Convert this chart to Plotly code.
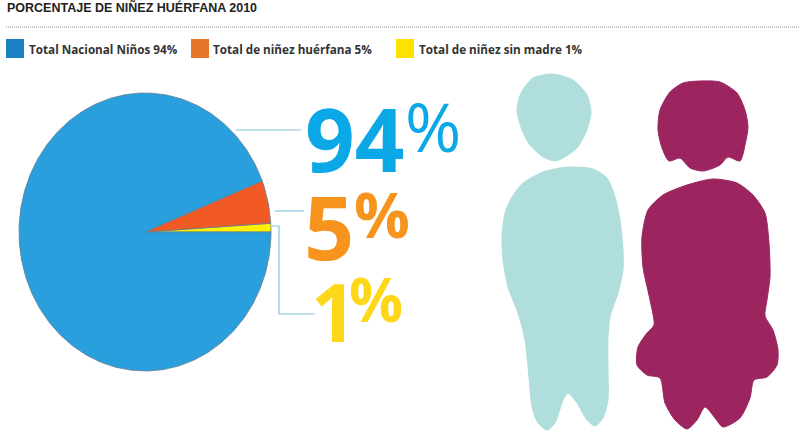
import numpy as np
import plotly.graph_objects as go

title = "PORCENTAJE DE NIÑEZ HUÉRFANA 2010"
categories = ["Total Nacional Niños 94%", "Total de niñez huérfana 5%", "Total de niñez sin madre 1%"]
shares = [94, 5, 1]
big_labels = ["94", "5", "1"]

legend_colors = ["#1b7fc4", "#e5752a", "#ffe100"]
slice_colors = ["#2a9fdd", "#f15a25", "#fff200"]
label_colors = ["#0aa8e6", "#f7941d", "#ffd71a"]

# silhouettes in pixels
boy_head = [(553, 74), (573, 80), (587, 95), (591, 113), (586, 132), (577, 148), (563, 158), (555, 161),
            (543, 157), (530, 145), (522, 130), (517, 110), (521, 93), (533, 78)]
boy_body = [(573, 167), (593, 169), (607, 178), (615, 197), (620, 220), (623, 250), (623, 270), (618, 293),
            (610, 317), (608, 337), (608, 370), (608, 400), (603, 418), (595, 426), (587, 420), (577, 403),
            (568, 393), (563, 400), (555, 423), (547, 430), (538, 423), (532, 407), (529, 377), (525, 340),
            (518, 313), (508, 287), (503, 260), (502, 237), (505, 213), (512, 197), (523, 183), (543, 172),
            (560, 168)]
girl_head = [(700, 81), (720, 82), (737, 93), (745, 110), (748, 127), (745, 145), (740, 161), (728, 157),
             (720, 165), (703, 171), (690, 168), (680, 158), (669, 161), (662, 148), (658, 130), (660, 110),
             (670, 92), (683, 83)]
girl_body = [(713, 179), (737, 183), (753, 195), (765, 213), (769, 243), (770, 277), (767, 300), (765, 316),
             (773, 330), (778, 350), (777, 365), (767, 377), (754, 380), (750, 398), (740, 418), (723, 427),
             (715, 418), (705, 407), (697, 420), (687, 429), (675, 420), (665, 403), (660, 378), (647, 375),
             (637, 365), (638, 347), (647, 333), (654, 325), (650, 300), (643, 267), (642, 237), (648, 210),
             (663, 195), (687, 185)]

fig = go.Figure()

# pie is squashed in the picture (wider radius != taller radius), so build the wedges from the shares
cx, cy, rx, ry = 145, 232, 126, 139
start = 0.0
order = [2, 1, 0]
for i in order:
    sweep = shares[i] / sum(shares) * 2 * np.pi
    t = np.linspace(start, start + sweep, max(4, int(shares[i] * 4)))
    xs = np.r_[cx, cx + rx * np.cos(t), cx]
    ys = np.r_[cy, cy - ry * np.sin(t), cy]
    fig.add_trace(go.Scatter(x=xs, y=ys, mode="lines", fill="toself", fillcolor=slice_colors[i],
                             line=dict(color="#5f7f8f", width=0.8), name=categories[i], hoverinfo="name"))
    start += sweep


def blob(points, color):
    pts = points + points[:1]
    fig.add_trace(go.Scatter(x=[p[0] for p in pts], y=[p[1] for p in pts], mode="lines", fill="toself",
                             fillcolor=color, line=dict(color=color, width=1, shape="spline", smoothing=0.7),
                             hoverinfo="skip"))


blob(boy_head, "#afdedc")
blob(boy_body, "#afdedc")
blob(girl_head, "#9c2560")
blob(girl_body, "#9c2560")

# leader lines
for xs, ys in [([236, 301], [130, 130]), ([275, 304], [211, 211]), ([272, 279, 279, 315], [226, 226, 314, 314])]:
    fig.add_trace(go.Scatter(x=xs, y=ys, mode="lines", line=dict(color="#86c3dc", width=1.2), hoverinfo="skip"))

# dotted rule under the title
fig.add_shape(type="line", x0=6, x1=800, y0=27, y1=27, line=dict(color="#8a8a8a", width=1, dash="1px 1px"))

# legend
legend_x = [6, 191, 396]
text_x = [27, 211, 417]
for i in range(3):
    fig.add_shape(type="rect", x0=legend_x[i], x1=legend_x[i] + 18, y0=39, y1=58,
                  fillcolor=legend_colors[i], line=dict(width=0))
    fig.add_annotation(x=text_x[i], y=49, text=f"<b>{categories[i]}</b>", showarrow=False, xanchor="left",
                       font=dict(family="Open Sans", size=11.7, color="#333333"))

fig.add_annotation(x=5, y=7, text=f"<b>{title}</b>", showarrow=False, xanchor="left",
                   font=dict(family="Liberation Sans", size=12.5, color="#222222"))

# big numbers
num_pos = [(303, 138, 87), (302, 226, 88), (309, 310, 80)]
pct_pos = [(403, 125, 68), (352, 214, 62), (347, 299, 60)]
for i in range(3):
    x, y, size = num_pos[i]
    fig.add_annotation(x=x, y=y, text=f"<b>{big_labels[i]}</b>", showarrow=False, xanchor="left",
                       font=dict(family="Open Sans", size=size, color=label_colors[i]))
    x, y, size = pct_pos[i]
    label = "%" if i == 0 else "<b>%</b>"
    fig.add_annotation(x=x, y=y, text=label, showarrow=False, xanchor="left",
                       font=dict(family="Open Sans", size=size, color=label_colors[i]))

fig.update_layout(width=800, height=445, margin=dict(l=0, r=0, t=0, b=0), showlegend=False,
                  paper_bgcolor="white", plot_bgcolor="white",
                  xaxis=dict(range=[0, 800], visible=False), yaxis=dict(range=[445, 0], visible=False))

# the page's default body margin would push everything 8px down and right
fig.write_html("out.html", config={"displayModeBar": False}, post_script="document.body.style.margin = '0';")
